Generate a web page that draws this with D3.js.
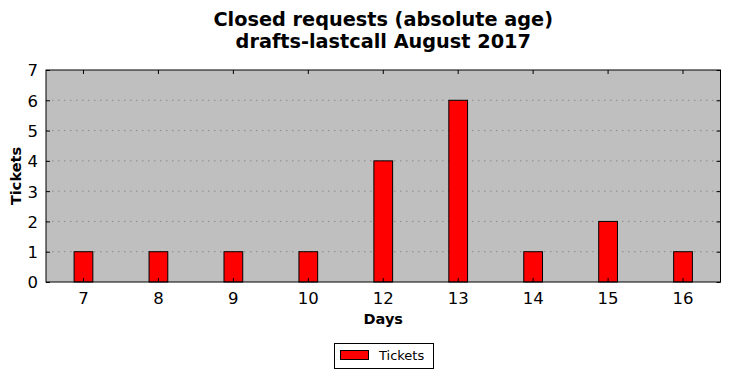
<!DOCTYPE html>
<html><head><meta charset="utf-8">
<script src="https://cdn.jsdelivr.net/npm/d3@7"></script>
<style>body{margin:0;background:#fff;font-family:"DejaVu Sans",sans-serif;}</style>
</head><body>
<svg id="c" width="731" height="378"></svg>
<script>
const categories = ["7","8","9","10","12","13","14","15","16"];
const tickets = [1,1,1,1,4,6,1,2,1];
const yTicks = [0,1,2,3,4,5,6,7];
const titleLines = ["Closed requests (absolute age)", "drafts-lastcall August 2017"];

const svg = d3.select("#c");
const m = {l:46, r:720.5, t:70, b:282};
const x = d3.scaleBand().domain(categories).range([m.l, m.r]).paddingInner(0).paddingOuter(0);
const y = d3.scaleLinear().domain([0,7]).range([m.b, m.t]);
const bw = x.bandwidth()*0.25;

svg.append("rect").attr("x",m.l).attr("y",m.t).attr("width",m.r-m.l).attr("height",m.b-m.t).attr("fill","#bfbfbf");

// grid
svg.append("g").selectAll("line").data(yTicks.filter(d=>d>0&&d<7)).join("line")
  .attr("x1",m.l).attr("x2",m.r).attr("y1",d=>y(d)).attr("y2",d=>y(d))
  .attr("stroke","#8a8a8a").attr("stroke-width",1).attr("stroke-dasharray","1.5,4.5");

// bars
svg.append("g").selectAll("rect").data(categories).join("rect")
  .attr("x",(d)=>x(d)+x.bandwidth()/2-bw/2).attr("width",bw)
  .attr("y",(d,i)=>y(tickets[i])).attr("height",(d,i)=>y(0)-y(tickets[i]))
  .attr("fill","#ff0000").attr("stroke","#000").attr("stroke-width",1);

// frame
svg.append("rect").attr("x",m.l).attr("y",m.t).attr("width",m.r-m.l).attr("height",m.b-m.t)
  .attr("fill","none").attr("stroke","#000").attr("stroke-width",1);

// axes (ticks inward)
const xa = d3.axisBottom(x).tickSize(-4).tickPadding(10);
const gx = svg.append("g").attr("transform",`translate(0,${m.b})`).call(xa);
const gxt = svg.append("g").attr("transform",`translate(0,${m.t})`).call(d3.axisTop(x).tickSize(-4).tickFormat(""));
const ya = d3.axisLeft(y).tickValues(yTicks).tickSize(-4).tickPadding(8).tickFormat(d3.format("d"));
const gy = svg.append("g").attr("transform",`translate(${m.l},0)`).call(ya);
const gyr = svg.append("g").attr("transform",`translate(${m.r},0)`).call(d3.axisRight(y).tickValues(yTicks).tickSize(-4).tickFormat(""));
[gx,gxt,gy,gyr].forEach(g=>{g.select(".domain").remove(); g.selectAll("line").attr("stroke","#000");});
gx.selectAll("text").attr("font-size",16.5).attr("font-family","DejaVu Sans").attr("fill","#000");
gy.selectAll("text").attr("font-size",16.5).attr("font-family","DejaVu Sans").attr("fill","#000").attr("dy","0.36em");

// titles
svg.append("g").selectAll("text").data(titleLines).join("text")
  .attr("x",(m.l+m.r)/2).attr("y",(d,i)=>26+i*22).attr("text-anchor","middle")
  .attr("font-size",19.3).attr("font-weight","bold").text(d=>d);

svg.append("text").attr("x",(m.l+m.r)/2).attr("y",324).attr("text-anchor","middle")
  .attr("font-size",14.5).attr("font-weight","bold").text("Days");
svg.append("text").attr("transform",`translate(21,${(m.t+m.b)/2}) rotate(-90)`).attr("text-anchor","middle")
  .attr("font-size",14.5).attr("font-weight","bold").text("Tickets");

// legend
const lg = svg.append("g");
lg.append("rect").attr("x",334.5).attr("y",343.5).attr("width",99).attr("height",25).attr("fill","#fff").attr("stroke","#000");
lg.append("rect").attr("x",340.5).attr("y",350.5).attr("width",28).attr("height",9).attr("fill","#ff0000").attr("stroke","#000");
lg.append("text").attr("x",379).attr("y",360).attr("font-size",13).text("Tickets");
</script>
</body></html>
